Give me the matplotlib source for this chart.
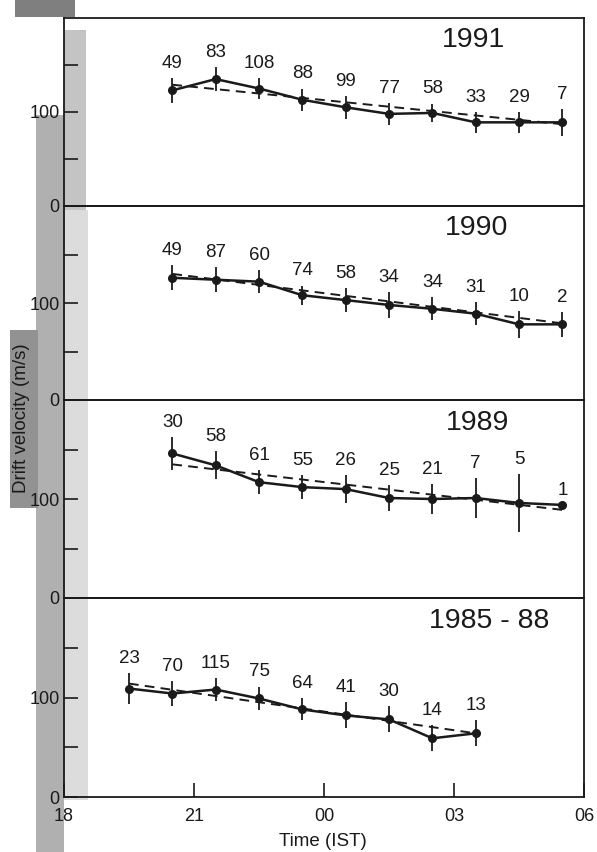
import matplotlib
matplotlib.use("Agg")
import matplotlib.pyplot as plt
from matplotlib.patches import Rectangle
from matplotlib.ticker import FixedLocator, FixedFormatter

plt.rcParams['font.family'] = ['Liberation Sans', 'DejaVu Sans']

# ---------------- data ----------------
panel_labels = ["1991", "1990", "1989", "1985 - 88"]

hours_9091 = [20.5, 21.5, 22.5, 23.5, 24.5, 25.5, 26.5, 27.5, 28.5, 29.5]
hours_8588 = [19.5, 20.5, 21.5, 22.5, 23.5, 24.5, 25.5, 26.5, 27.5]

v_1991 = [123, 135, 125, 113, 105, 98, 99, 89, 89, 89]
e_1991 = [13, 13, 11, 12, 12, 12, 10, 11, 11, 14]
n_1991 = [49, 83, 108, 88, 99, 77, 58, 33, 29, 7]
fit_1991 = [129, 87]

v_1990 = [126, 124, 122, 108, 103, 98, 94, 89, 78, 78]
e_1990 = [13, 13, 12, 10, 12, 13, 12, 12, 14, 13]
n_1990 = [49, 87, 60, 74, 58, 34, 34, 31, 10, 2]
fit_1990 = [130, 79]

v_1989 = [146, 134, 117, 112, 110, 101, 100, 101, 96, 94]
e_1989 = [17, 14, 12, 12, 14, 13, 15, 20, 29, 0]
n_1989 = [30, 58, 61, 55, 26, 25, 21, 7, 5, 1]
fit_1989 = [135, 89]

v_8588 = [109, 104, 108, 99, 88, 82, 78, 59, 64]
e_8588 = [16, 13, 12, 12, 11, 13, 13, 13, 13]
n_8588 = [23, 70, 115, 75, 64, 41, 30, 14, 13]
fit_8588 = [114, 64]

x_ticks = [18, 21, 24, 27, 30]
x_tick_labels = ["18", "21", "00", "03", "06"]
y_ticks = [0, 50, 100, 150]
y_tick_labels = ["0", "", "100", ""]

panels = [
    (hours_9091, v_1991, e_1991, n_1991, fit_1991),
    (hours_9091, v_1990, e_1990, n_1990, fit_1990),
    (hours_9091, v_1989, e_1989, n_1989, fit_1989),
    (hours_8588, v_8588, e_8588, n_8588, fit_8588),
]

# ---------------- layout ----------------
W, H = 597, 852
fig = plt.figure(figsize=(W / 100, H / 100), dpi=100)
fig.patch.set_facecolor("white")


def fx(px):
    return px / W


def fy(py):
    return 1 - py / H


def rect(x0, y0, x1, y1, color):
    fig.add_artist(Rectangle((fx(x0), fy(y1)), fx(x1) - fx(x0), (y1 - y0) / H,
                             transform=fig.transFigure, facecolor=color,
                             edgecolor="none", zorder=-5))


# scan shading (background)
rect(15, 0, 75, 17, "#7f7f7f")
rect(36, 115, 64, 852, "#b0b0b0")
rect(10, 330, 38, 508, "#929292")
rect(64, 30, 86, 210, "#c4c4c4")
rect(64, 210, 88, 800, "#dcdcdc")

bounds = [18, 206, 400, 598, 797]
left_px, right_px = 64, 584
label_x = [0.787, 0.794, 0.796, 0.817]

ink = "#1a1a1a"
for i, (xs, vs, es, ns, fit) in enumerate(panels):
    top, bot = bounds[i], bounds[i + 1]
    ax = fig.add_axes([fx(left_px), fy(bot), fx(right_px) - fx(left_px), (bot - top) / H])
    ax.set_facecolor("none")
    ax.set_xlim(18, 30)
    ax.set_ylim(0, 200)

    # fitted (dashed) line
    ax.plot([xs[0], xs[-1]], fit, color=ink, lw=1.4, dashes=(5, 3.2), zorder=2)
    # error bars
    ax.errorbar(xs, vs, yerr=es, fmt="none", ecolor=ink, elinewidth=1.3, capsize=0, zorder=3)
    # data line
    ax.plot(xs, vs, color=ink, lw=1.8, marker="o", ms=5.5, mfc=ink, mec=ink, zorder=4)

    for x, v, e, n in zip(xs, vs, es, ns):
        ax.annotate(str(n), xy=(x, v + e), xytext=(0, 10.5), textcoords="offset points",
                    ha="center", va="center", fontsize=13.5, color=ink)

    ax.text(label_x[i], 0.885, panel_labels[i], transform=ax.transAxes,
            ha="center", va="center", fontsize=20.5, color=ink)

    for s in ax.spines.values():
        s.set_linewidth(1.3)
        s.set_color(ink)

    ax.yaxis.set_major_locator(FixedLocator(y_ticks))
    ax.yaxis.set_major_formatter(FixedFormatter(y_tick_labels))
    ax.tick_params(axis="y", direction="in", length=10, width=1.2, pad=3,
                   labelsize=13, colors=ink)

    if i < len(panels) - 1:
        ax.set_xticks([])
    else:
        ax.xaxis.set_major_locator(FixedLocator(x_ticks))
        ax.xaxis.set_major_formatter(FixedFormatter(x_tick_labels))
        ax.tick_params(axis="x", direction="in", length=10, width=1.2, pad=8,
                       labelsize=13, colors=ink)

fig.text(fx(22), fy(418), "Drift velocity (m/s)", rotation=90, ha="center", va="center",
         fontsize=13.5, color=ink)
fig.text(fx(323), fy(842), "Time (IST)", ha="center", va="center", fontsize=13.5, color=ink)

fig.savefig("out.png", dpi=100)
